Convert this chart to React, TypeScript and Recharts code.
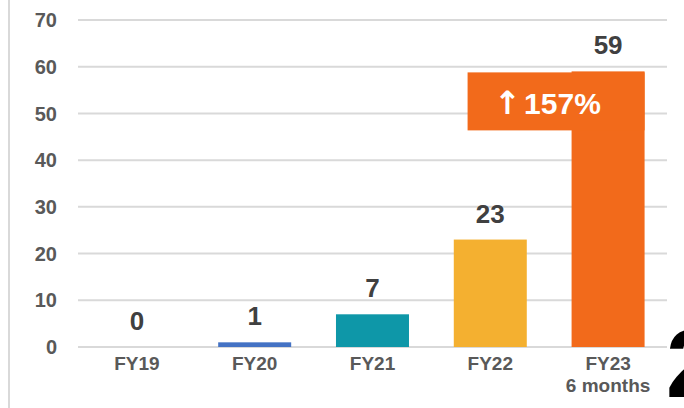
import React from "react";
import { ComposedChart, Bar, Line, XAxis, YAxis, CartesianGrid, LabelList, Cell } from "recharts";

const categories = ["FY19", "FY20", "FY21", "FY22", "FY23"];
const subLabels = ["", "", "", "", "6 months"];
const values = [0, 1, 7, 23, 59];
const colors = ["#4472C4", "#4472C4", "#0E97A8", "#F4B030", "#F26A1B"];
const yTicks = [0, 10, 20, 30, 40, 50, 60, 70];
const growthArrow = "\u2191";
const growthLabel = "157%";
const highlightIndex = 4;

const data = categories.map((c, i) => ({ name: c, sub: subLabels[i], value: values[i] }));

const FONT = "'Liberation Sans', Arial, sans-serif";

const XTick = (props: any) => {
  const { x, y, payload, index } = props;
  const sub = subLabels[index] ?? data.find((d) => d.name === payload.value)?.sub;
  return (
    <g>
      <text x={x} y={y + 15} textAnchor="middle" fontFamily={FONT} fontWeight={700} fontSize={19} fill="#595959">
        {payload.value}
      </text>
      {sub ? (
        <text x={x} y={y + 37} textAnchor="middle" fontFamily={FONT} fontWeight={700} fontSize={19} fill="#595959">
          {sub}
        </text>
      ) : null}
    </g>
  );
};

const BarShape = (props: any) => {
  const { x, y, width, height, index, fill } = props;
  if (x == null || y == null) return null;
  return (
    <g>
      {height > 0 ? <rect x={x} y={y} width={width} height={height} fill={fill} /> : null}
      {index === highlightIndex ? (
        <g>
          <rect x={x - 104} y={y + 1} width={104 + width} height={58} fill="#F26A1B" />
          <text x={x - 24} y={y + 43} textAnchor="middle" fontFamily={FONT} fontWeight={700} fontSize={30} fill="#FFFFFF">
            <tspan fontFamily="'DejaVu Sans', sans-serif" fontWeight={700} fontSize={32}>{growthArrow}</tspan>
            <tspan dx={3}>{growthLabel}</tspan>
          </text>
        </g>
      ) : null}
    </g>
  );
};

export default function App() {
  return (
    <div style={{ position: "absolute", left: 0, top: 0, width: 684, height: 408, overflow: "hidden", background: "#fff" }}>
      <div style={{ position: "absolute", left: 8, top: 0, width: 2, height: 408, background: "#d9d9d9" }} />
      <ComposedChart
        width={684}
        height={408}
        data={data}
        margin={{ top: 20, right: 17, bottom: 11, left: 10 }}
        barCategoryGap="19%"
      >
        <CartesianGrid vertical={false} stroke="#d9d9d9" strokeWidth={2} />
        <XAxis
          dataKey="name"
          axisLine={false}
          tickLine={false}
          height={50}
          interval={0}
          tick={<XTick />}
        />
        <YAxis
          domain={[0, 70]}
          ticks={yTicks}
          axisLine={false}
          tickLine={false}
          width={68}
          tickSize={0}
          tickMargin={21}
          tick={{ fontFamily: FONT, fontWeight: 700, fontSize: 20, fill: "#595959" }}
        />
        <Bar dataKey="value" isAnimationActive={false} shape={<BarShape />}>
          {data.map((d, i) => (
            <Cell key={d.name} fill={colors[i]} />
          ))}
        </Bar>
        <Line
          dataKey="value"
          stroke="none"
          dot={false}
          activeDot={false}
          isAnimationActive={false}
          legendType="none"
        >
          <LabelList
            dataKey="value"
            position="top"
            offset={17}
            fontFamily={FONT}
            fontWeight={700}
            fontSize={26}
            fill="#404040"
          />
        </Line>
      </ComposedChart>
      <div
        style={{
          position: "absolute",
          left: 666,
          top: 316,
          fontFamily: FONT,
          fontWeight: 900,
          fontSize: 96,
          lineHeight: "96px",
          color: "#000",
        }}
      >
        2
      </div>
    </div>
  );
}
